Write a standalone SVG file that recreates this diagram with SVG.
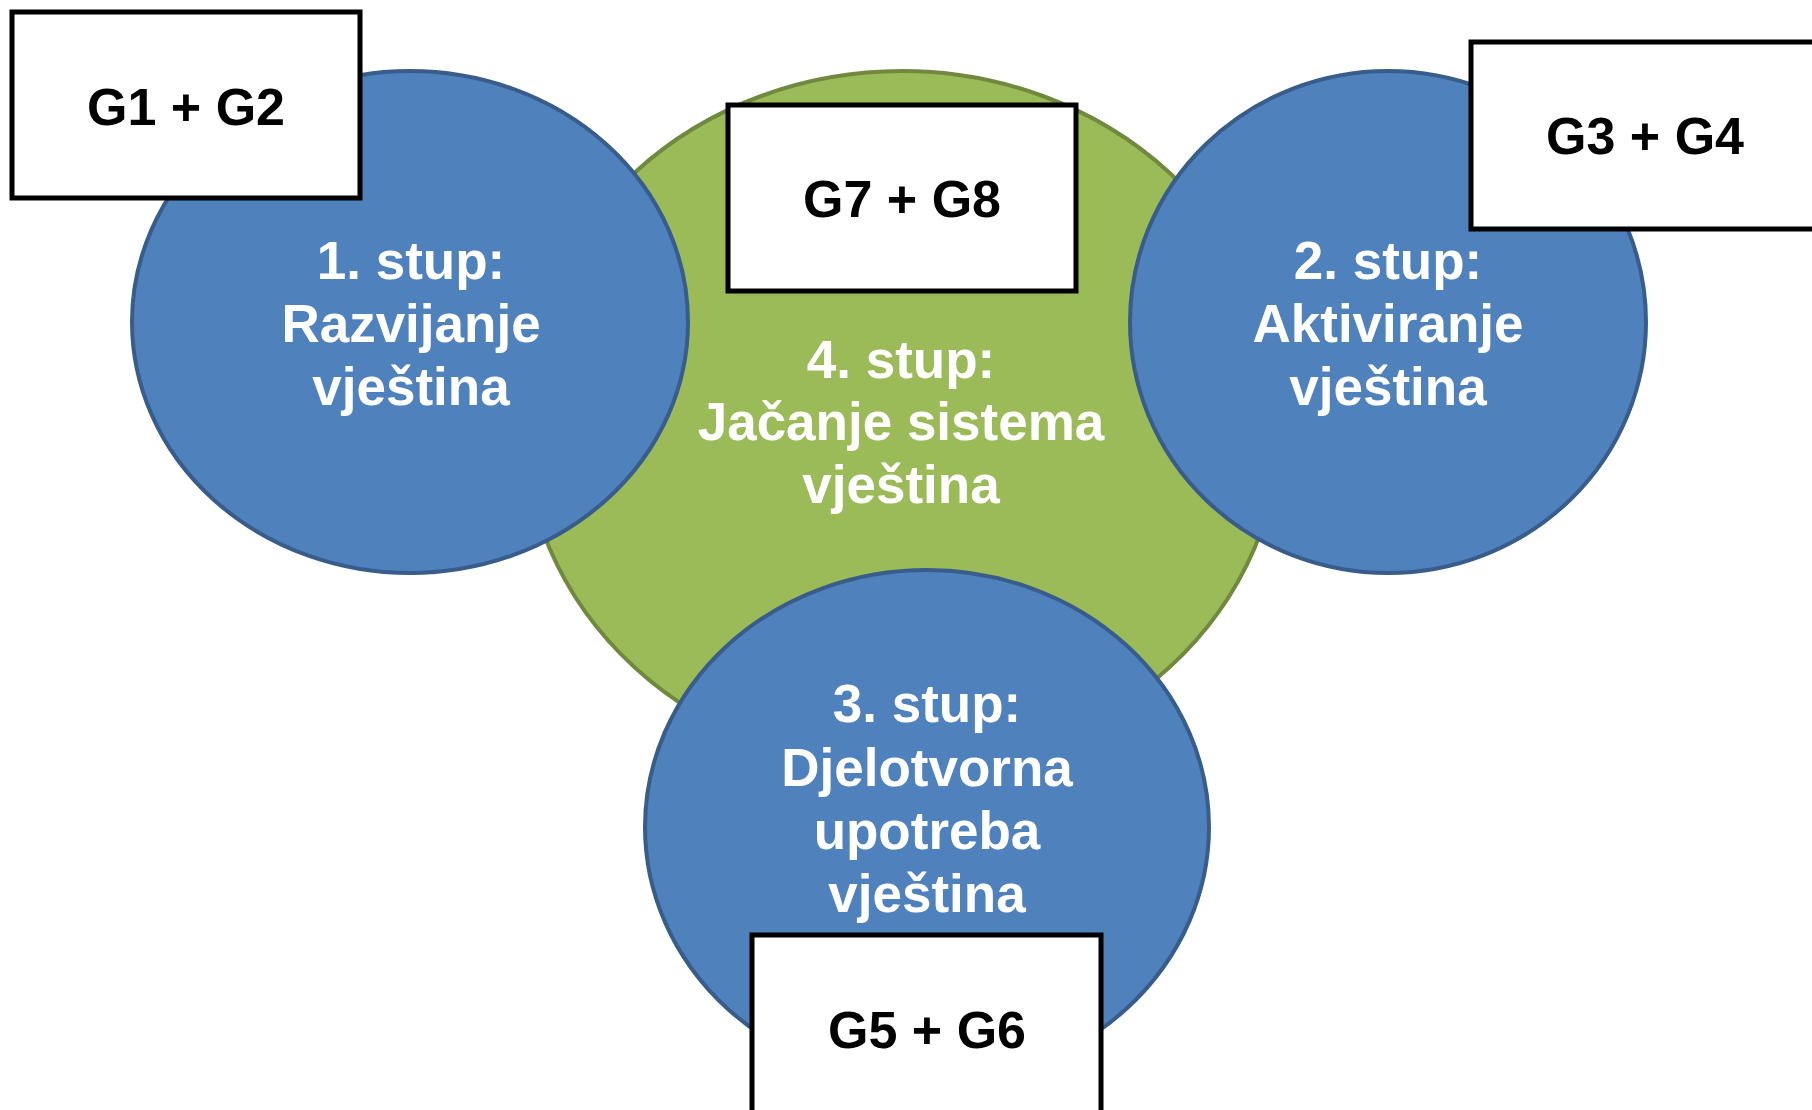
<svg xmlns="http://www.w3.org/2000/svg" width="1812" height="1110" viewBox="0 0 1812 1110">
<style>
.blue{fill:#4F81BD;stroke:#385D8A;stroke-width:4}
.green{fill:#9BBB59;stroke:#71893F;stroke-width:4}
.box{fill:#ffffff;stroke:#000000;stroke-width:5}
.lbl{font-family:"Liberation Sans",Arial,sans-serif;font-weight:bold;font-size:53px;fill:#ffffff;text-anchor:middle}
.g{font-family:"Liberation Sans",Arial,sans-serif;font-weight:bold;font-size:52px;fill:#000000;text-anchor:middle}
</style>
<rect width="1812" height="1110" fill="#ffffff"/>
<g id="pillar4">
<ellipse class="green" cx="902" cy="420" rx="379" ry="349"/>
<text class="lbl" x="901" y="378">4. stup:</text>
<text class="lbl" x="901" y="440">Jačanje sistema</text>
<text class="lbl" x="901" y="503">vještina</text>
</g>
<g id="pillar1">
<ellipse class="blue" cx="410" cy="322" rx="278" ry="251"/>
<text class="lbl" x="411" y="279">1. stup:</text>
<text class="lbl" x="411" y="342">Razvijanje</text>
<text class="lbl" x="411" y="405">vještina</text>
</g>
<g id="pillar2">
<ellipse class="blue" cx="1388" cy="322" rx="258" ry="251"/>
<text class="lbl" x="1388" y="279">2. stup:</text>
<text class="lbl" x="1388" y="342">Aktiviranje</text>
<text class="lbl" x="1388" y="405">vještina</text>
</g>
<g id="pillar3">
<ellipse class="blue" cx="927" cy="827" rx="282" ry="257"/>
<text class="lbl" x="927" y="722">3. stup:</text>
<text class="lbl" x="927" y="786">Djelotvorna</text>
<text class="lbl" x="927" y="849">upotreba</text>
<text class="lbl" x="927" y="912">vještina</text>
</g>
<g id="boxG1G2">
<rect class="box" x="12" y="12" width="348" height="186"/>
<text class="g" x="186" y="125">G1 + G2</text>
</g>
<g id="boxG7G8">
<rect class="box" x="728" y="105" width="348" height="186"/>
<text class="g" x="902" y="217">G7 + G8</text>
</g>
<g id="boxG3G4">
<rect class="box" x="1471" y="42" width="348" height="187"/>
<text class="g" x="1645" y="154">G3 + G4</text>
</g>
<g id="boxG5G6">
<rect class="box" x="752" y="935" width="349" height="186"/>
<text class="g" x="927" y="1048">G5 + G6</text>
</g>
<g id="connectors"></g>
</svg>
